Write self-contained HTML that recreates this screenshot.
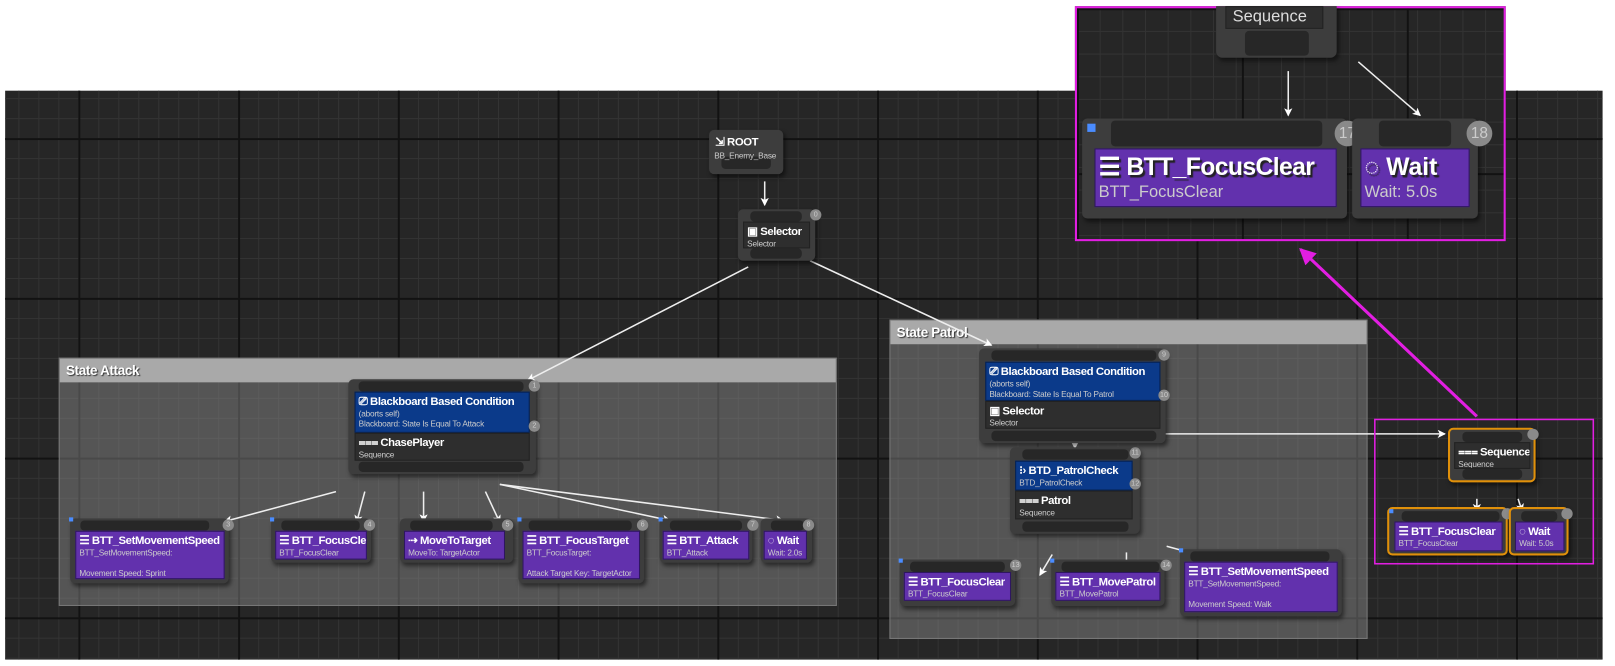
<!DOCTYPE html>
<html><head><meta charset="utf-8"><style>
*{margin:0;padding:0;box-sizing:border-box}
body{width:1615px;height:665px;background:#fff;position:relative;overflow:hidden;font-family:"Liberation Sans",sans-serif;color:#fff}
#w{position:absolute;left:0;top:0;width:1567px;height:646px;transform:scale(1.0306);transform-origin:0 0}
.canvas{position:absolute;background-color:#262626;
background-image:linear-gradient(#121212 2px,transparent 2px),linear-gradient(90deg,#121212 2px,transparent 2px),linear-gradient(#333 1px,transparent 1px),linear-gradient(90deg,#333 1px,transparent 1px);
background-size:155px 155px,155px 155px,19.4px 19.4px,19.4px 19.4px}
.cmt{position:absolute;background:rgba(150,150,150,0.42);border:1px solid #777}
.cmt .h{position:absolute;left:0;right:0;top:0;height:23px;background:#a9a9a9;font-weight:bold;font-size:13px;padding:4px 6px;text-shadow:1px 1px 1px #333;letter-spacing:-0.3px}
.n{position:absolute;background:#3d3d3d;border-radius:5px;box-shadow:2px 3px 4px rgba(0,0,0,.5)}
.b{position:absolute;background:#272727;border-radius:4px}
.p{position:absolute;background:#6231ad;border:1px solid #2e1660;padding:2px 3px;overflow:hidden;white-space:nowrap}
.bl{position:absolute;background:#0b3a8a;border:1px solid #062050;padding:2px 3px;overflow:hidden;white-space:nowrap}
.g{position:absolute;background:#2e2e2e;border:1px solid #222;padding:2px 3px;overflow:hidden;white-space:nowrap}
.t{font-weight:bold;font-size:11px;line-height:14px;letter-spacing:-0.4px}
.s{font-size:8px;color:#ccc;line-height:10px;letter-spacing:-0.2px}
.c{position:absolute;width:11px;height:11px;border-radius:50%;background:#8a8a8a;font-size:7px;color:#ccc;text-align:center;line-height:11px}
.sq{position:absolute;width:4px;height:4px;background:#4a8cff}
.or{border:2px solid #e0900a}
</style></head><body><div id="w">
<div class="canvas" style="left:5px;top:88px;width:1550px;height:552px;background-position:71px 46px"></div>
<div class="canvas" style="left:1043px;top:6px;width:418px;height:228px;background-position:0 0;background-size:160px 160px,160px 160px,22px 22px,22px 22px;border:2px solid #e21ee2"></div>

<div class="cmt" style="left:57px;top:347px;width:755px;height:241px"><div class="h">State Attack</div></div>
<div class="cmt" style="left:863px;top:310px;width:464px;height:310px"><div class="h">State Patrol</div></div>

<svg style="position:absolute;left:0;top:0" width="1567" height="646">
<defs><marker id="a" markerWidth="8" markerHeight="8" refX="7" refY="4" orient="auto" markerUnits="userSpaceOnUse"><path d="M0,0 L8,4 L0,8 L2,4z" fill="#fff"/></marker>
<marker id="m" markerWidth="16" markerHeight="16" refX="14" refY="8" orient="auto" markerUnits="userSpaceOnUse"><path d="M0,0 L16,8 L0,16 z" fill="#e21ee2"/></marker></defs>
<g stroke="#eee" stroke-width="1.5" fill="none" marker-end="url(#a)">
<line x1="742" y1="176" x2="742" y2="199"/>
<line x1="726" y1="259" x2="512" y2="369"/>
<line x1="786" y1="253" x2="962" y2="335"/>
<line x1="326" y1="477" x2="218" y2="506"/>
<line x1="354" y1="477" x2="346" y2="507"/>
<line x1="411" y1="477" x2="411" y2="506"/>
<line x1="471" y1="477" x2="485" y2="507"/>
<line x1="485" y1="470" x2="650" y2="505"/>
<line x1="485" y1="470" x2="760" y2="505"/>
<line x1="1043" y1="428" x2="1043" y2="435"/>
<line x1="1021" y1="538" x2="1009" y2="558"/>
<line x1="1093" y1="536" x2="1093" y2="556"/>
<line x1="1132" y1="530" x2="1187" y2="545"/>
<line x1="1131" y1="421" x2="1402" y2="421"/>
<line x1="1433" y1="484" x2="1433" y2="496"/>
<line x1="1473" y1="484" x2="1477" y2="496"/>
<line x1="1250" y1="69" x2="1250" y2="112"/>
<line x1="1318" y1="60" x2="1378" y2="112"/>
</g>
<line x1="1433" y1="404" x2="1262" y2="242" stroke="#e21ee2" stroke-width="3" marker-end="url(#m)"/>
<rect x="1334" y="407" width="212" height="140" fill="none" stroke="#e21ee2" stroke-width="1.5"/>
</svg>

<div class="n" style="left:688px;top:126px;width:72px;height:43px"><div class="b" style="left:12px;top:26px;width:48px;height:12px"></div>
<div style="position:absolute;left:6px;top:5px" class="t">⇲ ROOT</div><div class="s" style="position:absolute;left:5px;top:21px">BB_Enemy_Base</div></div>
<div class="n" style="left:716px;top:203px;width:75px;height:50px"><div class="b" style="left:12px;top:2px;width:50px;height:10px"></div><div class="b" style="left:12px;top:38px;width:50px;height:10px"></div>
<div class="g" style="left:5px;top:12px;width:65px;height:26px"><div class="t">▣ Selector</div><div class="s">Selector</div></div></div>
<div class="c" style="left:786px;top:203px">0</div>

<div class="n" style="left:338px;top:368px;width:182px;height:92px"><div class="b" style="left:10px;top:2px;width:160px;height:10px"></div><div class="b" style="left:10px;top:80px;width:160px;height:10px"></div>
<div class="bl" style="left:6px;top:12px;width:170px;height:40px"><div class="t">⎚ Blackboard Based Condition</div><div class="s">(aborts self)<br>Blackboard: State Is Equal To Attack</div></div>
<div class="g" style="left:6px;top:52px;width:170px;height:27px"><div class="t">⩶ ChasePlayer</div><div class="s">Sequence</div></div></div>
<div class="c" style="left:513px;top:369px">1</div><div class="c" style="left:513px;top:408px">2</div>

<div class="n" style="left:68px;top:503px;width:154px;height:63px"><div class="b" style="left:10px;top:2px;width:125px;height:10px"></div>
<div class="p" style="left:5px;top:12px;width:145px;height:47px"><div class="t">☰ BTT_SetMovementSpeed</div><div class="s">BTT_SetMovementSpeed:<br><br>Movement Speed: Sprint</div></div></div>
<div class="sq" style="left:67px;top:502px"></div><div class="c" style="left:216px;top:504px">3</div>

<div class="n" style="left:263px;top:503px;width:97px;height:43px"><div class="b" style="left:10px;top:2px;width:76px;height:10px"></div>
<div class="p" style="left:4px;top:12px;width:89px;height:28px"><div class="t">☰ BTT_FocusClear</div><div class="s">BTT_FocusClear</div></div></div>
<div class="sq" style="left:262px;top:502px"></div><div class="c" style="left:353px;top:504px">4</div>

<div class="n" style="left:388px;top:503px;width:110px;height:43px"><div class="b" style="left:10px;top:2px;width:80px;height:10px"></div>
<div class="p" style="left:4px;top:12px;width:98px;height:28px"><div class="t">⇢ MoveToTarget</div><div class="s">MoveTo: TargetActor</div></div></div>
<div class="c" style="left:487px;top:504px">5</div>

<div class="n" style="left:503px;top:503px;width:122px;height:63px"><div class="b" style="left:10px;top:2px;width:100px;height:10px"></div>
<div class="p" style="left:4px;top:12px;width:114px;height:47px"><div class="t">☰ BTT_FocusTarget</div><div class="s">BTT_FocusTarget:<br><br>Attack Target Key: TargetActor</div></div></div>
<div class="sq" style="left:502px;top:502px"></div><div class="c" style="left:618px;top:504px">6</div>

<div class="n" style="left:640px;top:503px;width:90px;height:43px"><div class="b" style="left:10px;top:2px;width:70px;height:10px"></div>
<div class="p" style="left:3px;top:12px;width:84px;height:28px"><div class="t">☰ BTT_Attack</div><div class="s">BTT_Attack</div></div></div>
<div class="sq" style="left:639px;top:502px"></div><div class="c" style="left:725px;top:504px">7</div>

<div class="n" style="left:738px;top:503px;width:50px;height:43px"><div class="b" style="left:10px;top:2px;width:32px;height:10px"></div>
<div class="p" style="left:3px;top:12px;width:42px;height:28px"><div class="t">◌ Wait</div><div class="s">Wait: 2.0s</div></div></div>
<div class="c" style="left:779px;top:504px">8</div>

<div class="n" style="left:950px;top:338px;width:181px;height:92px"><div class="b" style="left:12px;top:2px;width:160px;height:10px"></div><div class="b" style="left:12px;top:80px;width:160px;height:10px"></div>
<div class="bl" style="left:6px;top:13px;width:170px;height:38px"><div class="t">⎚ Blackboard Based Condition</div><div class="s">(aborts self)<br>Blackboard: State Is Equal To Patrol</div></div>
<div class="g" style="left:6px;top:51px;width:170px;height:27px"><div class="t">▣ Selector</div><div class="s">Selector</div></div></div>
<div class="c" style="left:1124px;top:339px">9</div><div class="c" style="left:1124px;top:378px">10</div>

<div class="n" style="left:980px;top:434px;width:126px;height:84px"><div class="b" style="left:12px;top:2px;width:103px;height:10px"></div><div class="b" style="left:12px;top:72px;width:103px;height:10px"></div>
<div class="bl" style="left:5px;top:13px;width:114px;height:29px"><div class="t">⁝› BTD_PatrolCheck</div><div class="s">BTD_PatrolCheck</div></div>
<div class="g" style="left:5px;top:42px;width:114px;height:28px"><div class="t">⩶ Patrol</div><div class="s">Sequence</div></div></div>
<div class="c" style="left:1096px;top:434px">11</div><div class="c" style="left:1096px;top:464px">12</div>

<div class="n" style="left:873px;top:543px;width:112px;height:45px"><div class="b" style="left:10px;top:2px;width:92px;height:10px"></div>
<div class="p" style="left:4px;top:12px;width:104px;height:28px"><div class="t">☰ BTT_FocusClear</div><div class="s">BTT_FocusClear</div></div></div>
<div class="sq" style="left:872px;top:542px"></div><div class="c" style="left:980px;top:543px">13</div>

<div class="n" style="left:1020px;top:543px;width:110px;height:45px"><div class="b" style="left:10px;top:2px;width:95px;height:10px"></div>
<div class="p" style="left:4px;top:12px;width:102px;height:28px"><div class="t">☰ BTT_MovePatrol</div><div class="s">BTT_MovePatrol</div></div></div>
<div class="sq" style="left:1019px;top:542px"></div><div class="c" style="left:1126px;top:543px">14</div>

<div class="n" style="left:1145px;top:533px;width:157px;height:65px"><div class="b" style="left:10px;top:2px;width:135px;height:10px"></div>
<div class="p" style="left:4px;top:12px;width:149px;height:49px"><div class="t">☰ BTT_SetMovementSpeed</div><div class="s">BTT_SetMovementSpeed:<br><br>Movement Speed: Walk</div></div></div>
<div class="sq" style="left:1144px;top:532px"></div>

<div class="n or" style="left:1405px;top:415px;width:85px;height:53px"><div class="b" style="left:12px;top:2px;width:58px;height:10px"></div><div class="b" style="left:12px;top:38px;width:58px;height:10px"></div>
<div class="g" style="left:4px;top:12px;width:74px;height:26px"><div class="t">⩶ Sequence</div><div class="s">Sequence</div></div></div>
<div class="c" style="left:1482px;top:416px"></div>

<div class="n or" style="left:1346px;top:492px;width:117px;height:47px"><div class="b" style="left:12px;top:2px;width:95px;height:10px"></div>
<div class="p" style="left:5px;top:12px;width:105px;height:29px"><div class="t">☰ BTT_FocusClear</div><div class="s">BTT_FocusClear</div></div></div>
<div class="sq" style="left:1348px;top:494px"></div><div class="c" style="left:1457px;top:493px"></div>
<div class="n or" style="left:1464px;top:492px;width:58px;height:47px"><div class="b" style="left:10px;top:2px;width:35px;height:10px"></div>
<div class="p" style="left:4px;top:12px;width:48px;height:29px"><div class="t">◌ Wait</div><div class="s">Wait: 5.0s</div></div></div>
<div class="c" style="left:1515px;top:493px"></div>

<div class="n" style="left:1180px;top:6px;width:117px;height:50px;border-radius:0 0 6px 6px"><div class="b" style="left:28px;top:24px;width:62px;height:24px"></div>
<div class="g" style="left:9px;top:0;width:95px;height:22px;font-size:16px;color:#ddd;padding:1px 6px">Sequence</div></div>
<div class="n" style="left:1050px;top:115px;width:257px;height:97px"><div class="b" style="left:28px;top:2px;width:205px;height:25px"></div>
<div class="p" style="left:12px;top:29px;width:235px;height:57px;padding:3px"><div style="font-weight:bold;font-size:24px;line-height:30px;letter-spacing:-0.6px;text-shadow:2px 2px 1px #222">☰ BTT_FocusClear</div><div style="font-size:16px;color:#ccc">BTT_FocusClear</div></div></div>
<div class="sq" style="left:1055px;top:120px;width:8px;height:8px"></div>
<div class="c" style="left:1295px;top:117px;width:25px;height:25px;font-size:15px;line-height:25px">17</div>
<div class="n" style="left:1312px;top:115px;width:122px;height:97px"><div class="b" style="left:26px;top:2px;width:70px;height:25px"></div>
<div class="p" style="left:8px;top:29px;width:106px;height:57px;padding:3px"><div style="font-weight:bold;font-size:24px;line-height:30px;text-shadow:2px 2px 1px #222">◌ Wait</div><div style="font-size:16px;color:#ccc">Wait: 5.0s</div></div></div>
<div class="c" style="left:1423px;top:117px;width:25px;height:25px;font-size:15px;line-height:25px">18</div>
</div></body></html>
